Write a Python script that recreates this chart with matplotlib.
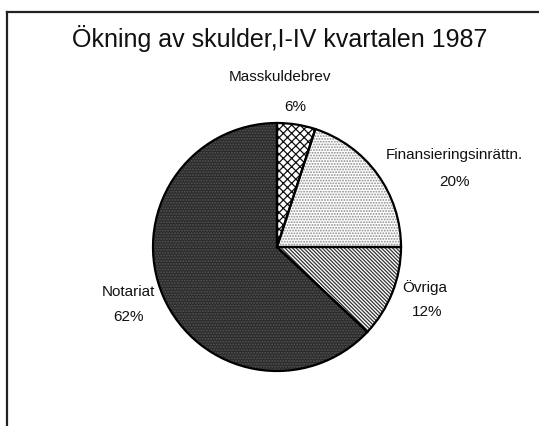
import matplotlib
matplotlib.use("Agg")
import matplotlib.pyplot as plt

plt.rcParams['font.family'] = ['Liberation Sans', 'DejaVu Sans']
plt.rcParams['hatch.linewidth'] = 0.9

title = "Ökning av skulder,I-IV kvartalen 1987"
categories = ["Masskuldebrev", "Finansieringsinrättn.", "Övriga", "Notariat"]
# slice shares as drawn in the picture
values = [5.0, 20.0, 12.0, 63.0]
# printed labels
pct_labels = ["6%", "20%", "12%", "62%"]

faces = ["white", "white", "white", "#2b2b2b"]
hatches = ["xxxx", "......", "\\\\\\\\\\\\\\\\\\", "......"]
hatch_cols = ["#111111", "#8a8a8a", "#333333", "#555555"]

W, H = 539, 426
fig = plt.figure(figsize=(W / 100, H / 100), dpi=100)
ax = fig.add_axes([0, 0, 1, 1])

cx, cy, r = 277, 179, 124

wedges, _ = ax.pie(values, startangle=90, counterclock=False, center=(cx, cy),
                   radius=r, frame=True)
for w, fc, hc, ht in zip(wedges, faces, hatch_cols, hatches):
    w.set_facecolor(fc)
    w.set_edgecolor(hc)
    w.set_hatch(ht)
    w.set_linewidth(0)
ax.pie(values, startangle=90, counterclock=False, center=(cx, cy),
       radius=r, frame=True,
       wedgeprops=dict(fill=False, edgecolor='black', linewidth=1.6))
ax.set_xlim(0, W)
ax.set_ylim(0, H)
ax.set_aspect('equal')
ax.axis('off')

# frame lines
ax.plot([7, 7], [0, H - 12], color='#222222', lw=1.6)
ax.plot([7, W], [H - 12, H - 12], color='#222222', lw=1.6)

ax.text(280, H - 47, title, ha='center', va='baseline', fontsize=18, color='#111111')

label_pos = [(280, 349), (454, 271), (425, 138), (128, 134)]
pct_pos = [(295, 319), (455, 244), (427, 114), (129, 109)]
for cat, pl, (lx, ly), (px, py) in zip(categories, pct_labels, label_pos, pct_pos):
    ax.text(lx, ly, cat, ha='center', va='center', fontsize=11, color='#111111')
    ax.text(px, py, pl, ha='center', va='center', fontsize=11, color='#111111')

fig.savefig("out.png", dpi=100)
